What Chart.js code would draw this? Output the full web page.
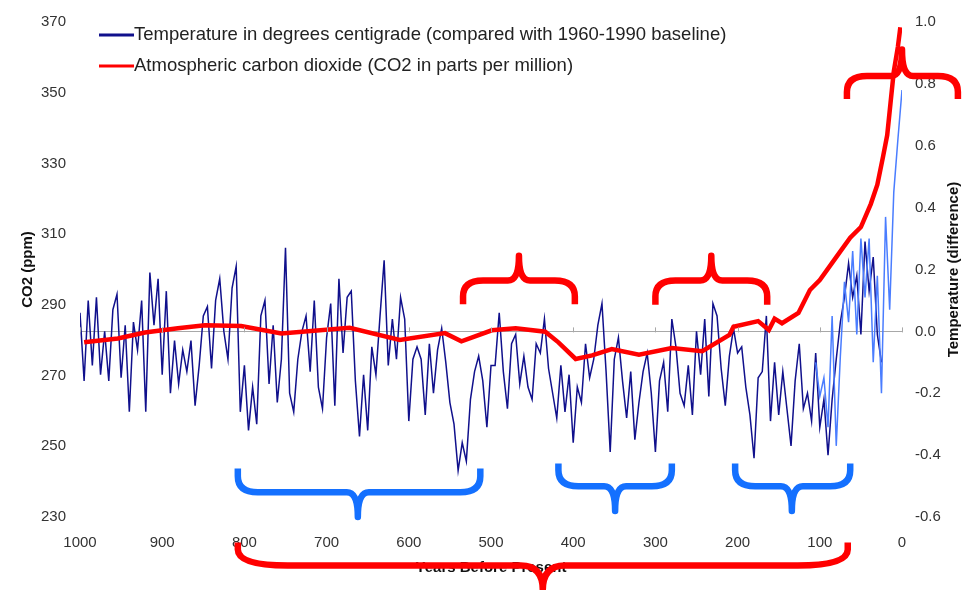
<!DOCTYPE html>
<html>
<head>
<meta charset="utf-8">
<title>Temperature and CO2, last 1000 years</title>
<script src="https://cdn.jsdelivr.net/npm/chart.js@4.4.1/dist/chart.umd.min.js"></script>
<style>
  html, body { margin: 0; padding: 0; background: #fff; }
  canvas { display: block; }
</style>
</head>
<body>
<canvas id="chart" width="963" height="590"></canvas>
<script>
const tempLabel = 'Temperature in degrees centigrade (compared with 1960-1990 baseline)';
const co2Label = 'Atmospheric carbon dioxide (CO2 in parts per million)';

// proxy reconstruction, years before present
const proxyYears = [
  1000, 995, 990, 985, 980, 975, 970, 965, 960, 955,
  950, 945, 940, 935, 930, 925, 920, 915, 910, 905,
  900, 895, 890, 885, 880, 875, 870, 865, 860, 855,
  850, 845, 840, 835, 830, 825, 820, 815, 810, 805,
  800, 795, 790, 785, 780, 775, 770, 765, 760, 755,
  750, 745, 740, 735, 730, 725, 720, 715, 710, 705,
  700, 695, 690, 685, 680, 675, 670, 665, 660, 655,
  650, 645, 640, 635, 630, 625, 620, 615, 610, 605,
  600, 595, 590, 585, 580, 575, 570, 565, 560, 555,
  550, 545, 540, 535, 530, 525, 520, 515, 510, 505,
  500, 495, 490, 485, 480, 475, 470, 465, 460, 455,
  450, 445, 440, 435, 430, 425, 420, 415, 410, 405,
  400, 395, 390, 385, 380, 375, 370, 365, 360, 355,
  350, 345, 340, 335, 330, 325, 320, 315, 310, 305,
  300, 295, 290, 285, 280, 275, 270, 265, 260, 255,
  250, 245, 240, 235, 230, 225, 220, 215, 210, 205,
  200, 195, 190, 185, 180, 175, 170, 165, 160, 155,
  150, 145, 140, 135, 130, 125, 120, 115, 110, 105,
  100, 95, 90, 85, 80, 75, 70, 65, 60, 55,
  50, 45, 40, 35, 30, 25
];
const proxyTemp = [
  0.06, -0.16, 0.10, -0.11, 0.11, -0.14, 0.00, -0.16, 0.07, 0.12,
  -0.15, 0.02, -0.26, 0.03, -0.06, 0.10, -0.26, 0.19, 0.02, 0.17,
  -0.14, 0.13, -0.20, -0.03, -0.17, -0.06, -0.13, -0.03, -0.24, -0.11,
  0.05, 0.08, -0.12, 0.10, 0.17, 0.00, -0.09, 0.14, 0.21, -0.26,
  -0.11, -0.32, -0.18, -0.30, 0.05, 0.10, -0.17, 0.02, -0.23, -0.09,
  0.27, -0.20, -0.26, -0.09, 0.00, 0.05, -0.13, 0.10, -0.18, -0.25,
  -0.02, 0.09, -0.24, 0.17, -0.07, 0.11, 0.13, -0.16, -0.34, -0.14,
  -0.32, -0.05, -0.14, 0.05, 0.23, -0.11, 0.04, -0.09, 0.11, 0.04,
  -0.29, -0.09, -0.05, -0.09, -0.27, -0.04, -0.20, -0.06, 0.01, -0.10,
  -0.23, -0.30, -0.45, -0.36, -0.42, -0.22, -0.13, -0.08, -0.16, -0.31,
  -0.11, -0.11, 0.06, -0.13, -0.25, -0.04, -0.01, -0.17, -0.08, -0.18,
  -0.22, -0.04, -0.07, 0.04, -0.12, -0.20, -0.28, -0.11, -0.26, -0.14,
  -0.36, -0.18, -0.23, -0.04, -0.15, -0.09, 0.02, 0.09, -0.13, -0.39,
  -0.09, -0.02, -0.16, -0.28, -0.13, -0.35, -0.23, -0.13, -0.07, -0.20,
  -0.39, -0.16, -0.10, -0.26, 0.04, -0.05, -0.20, -0.24, -0.11, -0.27,
  0.00, -0.14, 0.04, -0.21, 0.09, 0.05, -0.12, -0.24, -0.08, 0.01,
  -0.07, -0.05, -0.18, -0.27, -0.41, -0.15, -0.13, 0.05, -0.29, -0.10,
  -0.27, -0.13, -0.25, -0.37, -0.16, -0.04, -0.25, -0.20, -0.29, -0.07,
  -0.31, -0.22, -0.40, -0.22, -0.09, 0.03, 0.11, 0.22, 0.11, 0.18,
  -0.01, 0.29, 0.13, 0.24, -0.01, -0.10
];

// thermometer record, drawn lighter
const instYears = [
  105, 100, 95, 90, 85, 80, 75, 70, 65, 60, 55,
  50, 45, 40, 35, 30, 25, 20, 15, 10, 5, 0
];
const instTemp = [
  -0.10, -0.21, -0.15, -0.31, 0.05, -0.37, -0.08, 0.16, 0.03, 0.26, -0.01,
  0.30, 0.11, 0.30, -0.10, 0.18, -0.20, 0.37, 0.07, 0.45, 0.62, 0.78
];

const co2Years = [
  995, 954, 921, 881, 848, 804, 755, 672, 611, 556,
  536, 499, 470, 434, 418, 397, 377, 353, 320, 280,
  243, 210, 205, 175, 162, 155, 146, 126, 112, 100,
  80, 63, 50, 38, 30, 23, 18, 14, 10, 5, 2
];
const co2Ppm = [
  279.4, 280.5, 282.2, 283.4, 284.2, 284.0, 281.9, 283.5, 280.1, 282.0,
  279.7, 282.8, 283.4, 282.4, 279.4, 274.7, 275.7, 277.5, 275.9, 277.8,
  276.9, 281.5, 283.8, 285.4, 282.9, 286.1, 284.8, 287.7, 294.2, 297.0,
  303.5, 309.0, 312.0, 318.5, 324.0, 332.0, 338.0, 347.0, 356.0, 363.0, 368.5
];

// hand drawn braces, in years and ppm
const braces = [
  { from: 534, to: 398, tip: 466, arm: 290.2, bar: 296.9, point: 303.9, color: '#ff0000' },
  { from: 300, to: 164, tip: 232, arm: 290.0, bar: 296.9, point: 303.9, color: '#ff0000' },
  { from: 67, to: -68, tip: 0, arm: 348.2, bar: 354.7, point: 362.2, color: '#ff0000' },
  { from: 808, to: 513, tip: 662, arm: 243.7, bar: 237.0, point: 230.0, color: '#1470ff' },
  { from: 418, to: 280, tip: 349, arm: 245.1, bar: 238.7, point: 231.7, color: '#1470ff' },
  { from: 203, to: 63, tip: 134, arm: 245.1, bar: 238.7, point: 231.7, color: '#1470ff' },
  { from: 808, to: 66, tip: 437, arm: 222.8, bar: 216.3, point: 209.4, color: '#ff0000', corner: 50, cusp: 22 }
];

function toPoints(xs, ys) {
  return xs.map((x, i) => ({ x: x, y: ys[i] }));
}

function drawBrace(ctx, b, xs, ys) {
  const x1 = xs.getPixelForValue(b.from);
  const x2 = xs.getPixelForValue(b.to);
  const xc = xs.getPixelForValue(b.tip);
  const yArm = ys.getPixelForValue(b.arm);
  const yBar = ys.getPixelForValue(b.bar);
  const yTip = ys.getPixelForValue(b.point);
  const r = b.corner || 20;
  const c = b.cusp || 11;
  const s = Math.sign(yArm - yBar);
  const rv = Math.min(16, Math.abs(yArm - yBar));

  ctx.strokeStyle = b.color;
  ctx.beginPath();
  ctx.moveTo(x1, yArm);
  ctx.lineTo(x1, yBar + s * rv);
  ctx.quadraticCurveTo(x1, yBar, x1 + r, yBar);
  ctx.lineTo(xc - c, yBar);
  ctx.quadraticCurveTo(xc, yBar, xc, yTip);
  ctx.quadraticCurveTo(xc, yBar, xc + c, yBar);
  ctx.lineTo(x2 - r, yBar);
  ctx.quadraticCurveTo(x2, yBar, x2, yBar + s * rv);
  ctx.lineTo(x2, yArm);
  ctx.stroke();
}

/**
 * legend, right axis title, the little ticks on the zero line
 * and the braces - none of which chart.js wants to do the way the picture does
 */
const extras = {
  id: 'extras',
  afterDraw(chart) {
    const ctx = chart.ctx;
    const { x, y, y2 } = chart.scales;
    const area = chart.chartArea;

    // ticks hanging off the zero line
    const zero = y2.getPixelForValue(0);
    ctx.save();
    ctx.strokeStyle = '#a8a8a8';
    ctx.lineWidth = 1;
    x.ticks.forEach(t => {
      const px = Math.round(x.getPixelForValue(t.value)) + 0.5;
      ctx.beginPath();
      ctx.moveTo(px, zero - 4);
      ctx.lineTo(px, zero + 1);
      ctx.stroke();
    });

    // legend
    ctx.font = '18.5px "Liberation Sans", Arial, sans-serif';
    ctx.textBaseline = 'middle';
    ctx.fillStyle = '#222';
    const entries = [chart.data.datasets[0], chart.data.datasets[2]];
    entries.forEach((ds, i) => {
      const ly = 35 + i * 31;
      ctx.strokeStyle = ds.borderColor;
      ctx.lineWidth = 3;
      ctx.beginPath();
      ctx.moveTo(99, ly);
      ctx.lineTo(134, ly);
      ctx.stroke();
      ctx.fillText(ds.label, 134, ly);
    });

    // right hand title, reads bottom to top
    ctx.font = 'bold 15px "Liberation Sans", Arial, sans-serif';
    ctx.fillStyle = '#111';
    ctx.textAlign = 'center';
    ctx.translate(954, (area.top + area.bottom) / 2);
    ctx.rotate(-Math.PI / 2);
    ctx.fillText('Temperature (difference)', 0, 0);
    ctx.restore();

    ctx.save();
    ctx.lineWidth = 6.5;
    ctx.lineJoin = 'round';
    braces.forEach(b => drawBrace(ctx, b, x, y));
    ctx.restore();
  }
};

const tickFont = { family: '"Liberation Sans", Arial, sans-serif', size: 15 };
const titleFont = { family: '"Liberation Sans", Arial, sans-serif', size: 15, weight: 'bold' };

new Chart(document.getElementById('chart'), {
  type: 'line',
  data: {
    datasets: [
      {
        label: tempLabel,
        data: toPoints(proxyYears, proxyTemp),
        yAxisID: 'y2',
        borderColor: '#10108c',
        borderWidth: 1.5,
        pointRadius: 0,
        tension: 0,
        order: 2
      },
      {
        label: 'Instrumental',
        data: toPoints(instYears, instTemp),
        yAxisID: 'y2',
        borderColor: '#4a7dff',
        borderWidth: 1.5,
        pointRadius: 0,
        tension: 0,
        order: 1
      },
      {
        label: co2Label,
        data: toPoints(co2Years, co2Ppm),
        yAxisID: 'y',
        borderColor: '#ff0000',
        borderWidth: 4.5,
        pointRadius: 0,
        tension: 0,
        order: 0
      }
    ]
  },
  options: {
    responsive: false,
    animation: false,
    devicePixelRatio: 1,
    layout: { padding: { top: 15, left: 0, right: 0, bottom: 0 } },
    plugins: { legend: { display: false }, tooltip: { enabled: false } },
    scales: {
      x: {
        type: 'linear',
        reverse: true,
        min: 0,
        max: 1000,
        ticks: { stepSize: 100, color: '#333', font: tickFont, padding: 9, maxRotation: 0, callback: v => String(v) },
        grid: { display: false },
        border: { display: false },
        title: { display: true, text: 'Years Before Present', color: '#111', font: titleFont, padding: { top: 13, bottom: 13 } },
        afterFit: s => { s.height = 73; }
      },
      y: {
        position: 'left',
        min: 230,
        max: 370,
        ticks: { stepSize: 20, color: '#333', font: tickFont, padding: 6 },
        grid: { display: false },
        border: { display: false },
        title: { display: true, text: 'CO2 (ppm)', color: '#111', font: titleFont, padding: { top: 19, bottom: 0 } },
        afterFit: s => { s.width = 80; }
      },
      y2: {
        position: 'right',
        min: -0.6,
        max: 1.0,
        ticks: { stepSize: 0.2, color: '#333', font: tickFont, padding: 13, callback: v => v.toFixed(1) },
        grid: {
          drawTicks: false,
          color: c => Math.abs(c.tick.value) < 1e-9 ? '#a8a8a8' : 'rgba(0,0,0,0)'
        },
        border: { display: false },
        afterFit: s => { s.width = 61; }
      }
    }
  },
  plugins: [extras]
});
</script>
</body>
</html>
